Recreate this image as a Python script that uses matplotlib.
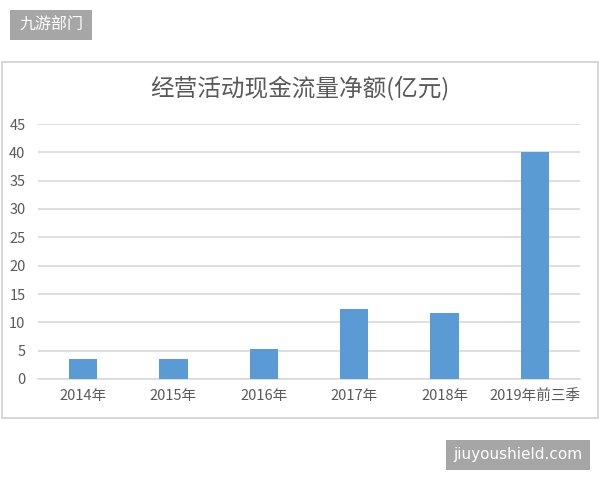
import matplotlib
matplotlib.use("Agg")
import matplotlib.pyplot as plt
from matplotlib.patches import Rectangle

plt.rcParams['font.family'] = ['Noto Sans CJK SC', 'DejaVu Sans']

categories = ['2014年', '2015年', '2016年', '2017年', '2018年', '2019年前三季']
values = [3.5, 3.5, 5.35, 12.35, 11.6, 40.0]
yticks = [0, 5, 10, 15, 20, 25, 30, 35, 40, 45]

W, H = 600, 480
fig = plt.figure(figsize=(6, 4.8), dpi=100)
fig.patch.set_facecolor('white')

# chart frame
fig.patches.append(Rectangle((2 / W, 1 - 418 / H), 596 / W, 356 / H,
                             transform=fig.transFigure, facecolor='none',
                             edgecolor='#d0d0d0', linewidth=1.2, zorder=-1))

ax = fig.add_axes([38 / W, 1 - 379 / H, 542 / W, 255 / H])
ax.set_zorder(2)
x = range(len(categories))
ax.bar(x, values, width=0.31, color='#5b9bd5', zorder=3)
ax.set_xlim(-0.5, len(categories) - 0.5)
ax.set_ylim(0, 45)
ax.set_yticks(yticks)
ax.set_xticks(list(x))
ax.set_xticklabels(categories)
ax.yaxis.grid(True, color='#d9d9d9', linewidth=1.2, zorder=0)
ax.set_axisbelow(True)
for s in ['top', 'right', 'left']:
    ax.spines[s].set_visible(False)
ax.spines['bottom'].set_color('#d9d9d9')
ax.spines['bottom'].set_linewidth(1.2)
ax.tick_params(axis='both', length=0, colors='#595959', labelsize=10.5)
ax.tick_params(axis='y', pad=9)
ax.tick_params(axis='x', pad=7)
ax.set_facecolor('none')

fig.text(0.5, 1 - 88 / H, '经营活动现金流量净额(亿元)', ha='center', va='center',
         fontsize=17, color='#595959')

# watermark labels
fig.patches.append(Rectangle((10 / W, 1 - 40 / H), 82 / W, 30 / H,
                             transform=fig.transFigure, facecolor='#a6a6a6',
                             edgecolor='none', zorder=1))
fig.text(51 / W, 1 - 25 / H, '九游部门', ha='center', va='center',
         fontsize=11.5, color='white')
fig.patches.append(Rectangle((446 / W, 1 - 470 / H), 144 / W, 30 / H,
                             transform=fig.transFigure, facecolor='#a6a6a6',
                             edgecolor='none', zorder=1))
fig.text(518 / W, 1 - 455 / H, 'jiuyoushield.com', ha='center', va='center',
         fontsize=11, color='white', family=['DejaVu Sans'])

fig.savefig('out.png', dpi=100)
